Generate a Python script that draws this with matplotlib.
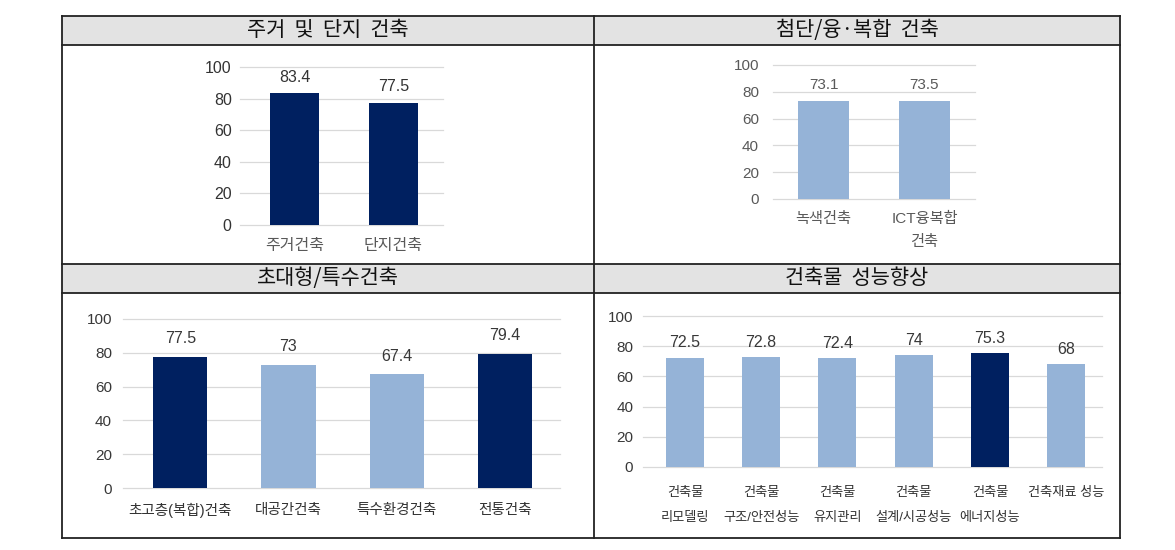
import matplotlib
matplotlib.use('Agg')
import matplotlib.pyplot as plt
from matplotlib.patches import Rectangle
from matplotlib.lines import Line2D

W, H = 1175, 550

# chart data
titles = ['주거 및 단지 건축', '첨단/융·복합 건축', '초대형/특수건축', '건축물 성능향상']

cats1 = ['주거건축', '단지건축']
vals1 = [83.4, 77.5]

cats2 = ['녹색건축', 'ICT융복합\n건축']
vals2 = [73.1, 73.5]

cats3 = ['초고층(복합)건축', '대공간건축', '특수환경건축', '전통건축']
vals3 = [77.5, 73, 67.4, 79.4]

cats4 = ['건축물\n리모델링', '건축물\n구조/안전성능', '건축물\n유지관리',
         '건축물\n설계/시공성능', '건축물\n에너지성능', '건축재료 성능']
vals4 = [72.5, 72.8, 72.4, 74, 75.3, 68]

yticks = [0, 20, 40, 60, 80, 100]

NAVY = '#002060'
LIGHT = '#95b3d7'
KR = 'Noto Sans CJK KR'
ARIAL = ['Liberation Sans', KR]
NARROW = ['Liberation Sans Narrow', 'Liberation Sans', KR]

plt.rcParams['font.family'] = [KR, 'DejaVu Sans']

fig = plt.figure(figsize=(W / 100, H / 100), dpi=100)


def fx(x):
    return x / W


def fy(y):
    return 1 - y / H


def hline(y, x0=62, x1=1120):
    fig.add_artist(Line2D([fx(x0), fx(x1)], [fy(y), fy(y)], color='#222222', lw=1.3,
                          transform=fig.transFigure))


def vline(x, y0=16, y1=538):
    fig.add_artist(Line2D([fx(x), fx(x)], [fy(y0), fy(y1)], color='#222222', lw=1.3,
                          transform=fig.transFigure))


# table frame with grey header rows
for (y0, y1) in [(16, 45), (264, 293)]:
    fig.add_artist(Rectangle((fx(62), fy(y1)), fx(1120) - fx(62), fy(y0) - fy(y1),
                             facecolor='#e3e3e3', edgecolor='none', transform=fig.transFigure))
for y in [16, 45, 264, 293, 538]:
    hline(y)
for x in [62, 594, 1120]:
    vline(x)

title_pos = [(328, 30.5), (857, 30.5), (328, 278.5), (857, 278.5)]
for t, (x, y) in zip(titles, title_pos):
    fig.text(fx(x), fy(y), t.replace(' ', '  '), ha='center', va='center',
             fontsize=15, color='#111111', family=KR, fontweight='medium')


def chart(box, cats, vals, colors, xlim, tfont, tsize, tcolor, tpad,
          vsize, voff, csize, cpad, ccolor, lsp):
    x0, y0, x1, y1 = box
    ax = fig.add_axes([fx(x0), fy(y1), fx(x1) - fx(x0), fy(y0) - fy(y1)])
    xs = list(range(len(cats)))
    ax.bar(xs, vals, width=0.5, color=colors, zorder=3)
    ax.set_xlim(*xlim)
    ax.set_ylim(0, 100)
    ax.set_yticks(yticks)
    ax.set_yticklabels([str(v) for v in yticks], family=tfont, fontsize=tsize, color=tcolor)
    ax.set_xticks(xs)
    ax.set_xticklabels(cats, family=ARIAL, fontsize=csize, color=ccolor, linespacing=lsp)
    ax.tick_params(axis='y', length=0, pad=tpad)
    ax.tick_params(axis='x', length=0, pad=cpad)
    ax.grid(axis='y', color='#d9d9d9', lw=0.9)
    for gl in ax.get_ygridlines():
        gl.set_clip_on(False)
    ax.set_axisbelow(True)
    for s in ax.spines.values():
        s.set_visible(False)
    ax.patch.set_alpha(0)
    for x, v in zip(xs, vals):
        ax.annotate('{:g}'.format(v), (x, v), xytext=(0, voff), textcoords='offset points',
                    ha='center', va='center', family=tfont, fontsize=vsize, color=tcolor)
    return ax


chart((240, 67, 443, 225), cats1, vals1, [NAVY, NAVY], (-0.55, 1.5),
      ARIAL, 11.5, '#333333', 6, 11.5, 11.5, 11.5, 9.5, '#595959', 1.5)
chart((773, 65, 975, 199), cats2, vals2, [LIGHT, LIGHT], (-0.5, 1.5),
      ARIAL, 11, '#595959', 10, 11, 11.5, 11, 9.5, '#595959', 1.8)
chart((123, 319, 560, 488), cats3, vals3, [NAVY, LIGHT, LIGHT, NAVY], (-0.53, 3.51),
      NARROW, 11, '#383838', 8, 11.5, 13, 10.5, 11, '#333333', 1.5)
chart((643, 316, 1102, 467), cats4, vals4, [LIGHT] * 4 + [NAVY, LIGHT], (-0.55, 5.47),
      NARROW, 11, '#383838', 7, 11.5, 10.5, 9.5, 14.5, '#333333', 2.45)

fig.savefig('out.png', dpi=100)
